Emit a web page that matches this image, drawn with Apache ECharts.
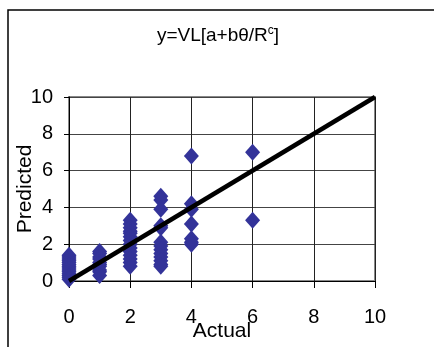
<!DOCTYPE html>
<html>
<head>
<meta charset="utf-8">
<script src="https://cdn.jsdelivr.net/npm/echarts@6/dist/echarts.min.js"></script>
<style>
  html, body { margin: 0; padding: 0; background: #fff; }
  #chart { width: 434px; height: 347px; }
</style>
</head>
<body>
<div id="chart"></div>
<script>
const actualValues = [0, 1, 2, 3, 4, 6];
const predictedAt0 = [1.4, 1.3, 1.2, 1.1, 1.0, 0.9, 0.8, 0.7, 0.6, 0.5, 0.4, 0.3, 0.2, 0.1];
const predictedAt1 = [1.6, 1.5, 1.3, 1.2, 1.0, 0.9, 0.8, 0.6, 0.5, 0.3];
const predictedAt2 = [3.3, 3.1, 2.9, 2.7, 2.6, 2.4, 2.2, 2.0, 1.8, 1.6, 1.4, 1.2, 1.0, 0.8];
const predictedAt3 = [4.6, 4.4, 3.9, 3.0, 2.9, 2.1, 1.9, 1.7, 1.5, 1.3, 1.1, 0.9, 0.8];
const predictedAt4 = [6.8, 4.2, 3.9, 3.1, 2.3, 2.1, 2.0];
const predictedAt6 = [7.0, 3.3];
const fitLine = [[0, 0], [10, 10]];

const groups = [predictedAt0, predictedAt1, predictedAt2, predictedAt3, predictedAt4, predictedAt6];
const points = [];
groups.forEach((vals, i) => {
  vals.forEach((v) => points.push([actualValues[i], v]));
});

const chart = echarts.init(document.getElementById('chart'));

const font = 'Arial, "Liberation Sans", sans-serif';

const option = {
  animation: false,
  textStyle: { fontFamily: font },
  title: {
    text: '{a|y=VL[a+bθ/R}{s|c}{a|]}',
    left: 213,
    top: 20,
    textAlign: 'center',
    textStyle: {
      fontWeight: 'normal',
      rich: {
        a: { fontSize: 19, color: '#000', fontFamily: font, fontWeight: 'normal' },
        s: { fontSize: 12, color: '#000', fontFamily: font, fontWeight: 'normal', verticalAlign: 'bottom', padding: [0, 0, 9, 0] },
      },
    },
  },
  graphic: [
    {
      type: 'polyline',
      shape: { points: [[8, 347], [8, 10], [434, 10]] },
      style: { stroke: '#000', lineWidth: 1.5, fill: null },
    },
  ],
  grid: {
    left: 69,
    right: 59,
    top: 97,
    bottom: 66,
    containLabel: false,
    outerBoundsMode: 'none',
    show: true,
    borderColor: '#888',
    borderWidth: 2,
  },
  xAxis: {
    type: 'value',
    min: 0,
    max: 10,
    interval: 2,
    name: 'Actual',
    nameLocation: 'middle',
    nameGap: 40,
    nameMoveOverlap: false,
    nameTextStyle: { fontSize: 21, color: '#000', fontFamily: font },
    axisLine: { show: true, lineStyle: { color: '#000', width: 1 } },
    axisTick: { show: true, length: 7, lineStyle: { color: '#000' } },
    axisLabel: { fontSize: 20, color: '#000', margin: 26, fontFamily: font },
    splitLine: { show: true, lineStyle: { color: '#222', width: 1 } },
  },
  yAxis: {
    type: 'value',
    min: 0,
    max: 10,
    interval: 2,
    name: 'Predicted',
    nameLocation: 'middle',
    nameGap: 33,
    nameMoveOverlap: false,
    nameTextStyle: { fontSize: 21, color: '#000', fontFamily: font },
    axisLine: { show: true, lineStyle: { color: '#000', width: 1 } },
    axisTick: { show: true, length: 5, lineStyle: { color: '#000' } },
    axisLabel: { fontSize: 20, color: '#000', margin: 16, fontFamily: font },
    splitLine: { show: true, lineStyle: { color: '#444', width: 1 } },
  },
  series: [
    {
      type: 'scatter',
      data: points,
      symbol: 'diamond',
      symbolSize: [15, 17],
      itemStyle: { color: '#333399', opacity: 1 },
      z: 3,
    },
    {
      type: 'line',
      data: fitLine,
      symbol: 'none',
      lineStyle: { color: '#000', width: 4.5 },
      z: 4,
    },
  ],
};

chart.setOption(option);
</script>
</body>
</html>
